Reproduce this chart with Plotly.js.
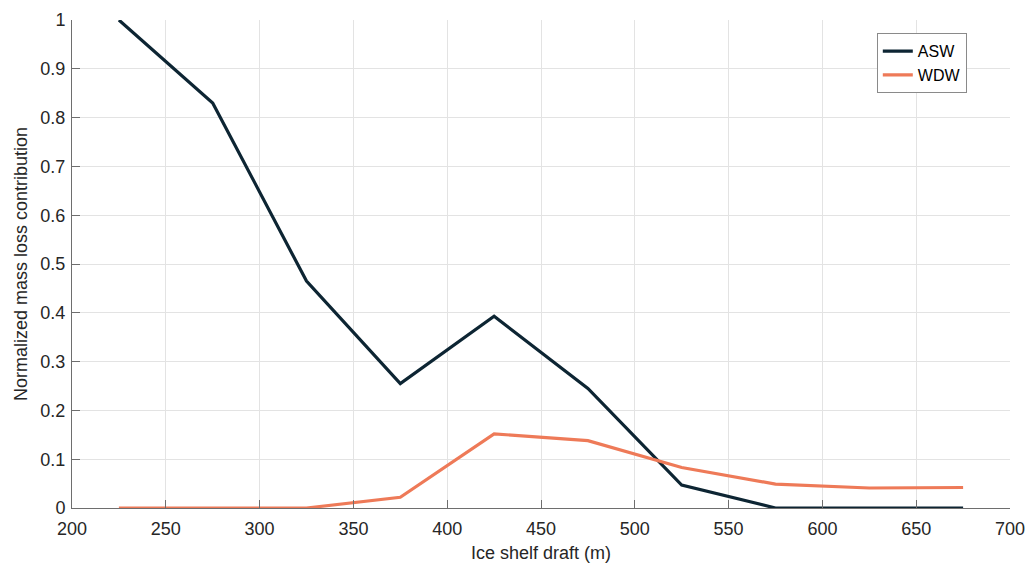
<!DOCTYPE html>
<html>
<head>
<meta charset="utf-8">
<script src="https://cdn.plot.ly/plotly-3.0.1.min.js"></script>
<style>html,body{margin:0;padding:0;background:#fff;}#chart{width:1028px;height:565px;}</style>
</head>
<body>
<div id="chart"></div>
<script>
var draft = [225, 275, 325, 375, 425, 475, 525, 575, 625, 675];
var asw = [1.0, 0.83, 0.465, 0.255, 0.393, 0.245, 0.047, 0, 0, 0];
var wdw = [0, 0, 0, 0.022, 0.152, 0.138, 0.083, 0.049, 0.041, 0.042];
var xTicks = [200, 250, 300, 350, 400, 450, 500, 550, 600, 650, 700];
var yTicks = [0, 0.1, 0.2, 0.3, 0.4, 0.5, 0.6, 0.7, 0.8, 0.9, 1];
var yTickText = ['0', '0.1', '0.2', '0.3', '0.4', '0.5', '0.6', '0.7', '0.8', '0.9', '1'];

var traces = [
  {x: draft, y: asw, mode: 'lines', name: 'ASW', line: {color: '#0d2533', width: 3.2}},
  {x: draft, y: wdw, mode: 'lines', name: 'WDW', line: {color: '#ee7a58', width: 3.2}}
];
var fam = 'Liberation Sans, Arial, sans-serif';
var axFont = {family: fam, size: 18, color: '#262626'};
var layout = {
  width: 1028, height: 565,
  margin: {l: 72, r: 18, t: 20, b: 57},
  paper_bgcolor: '#fff', plot_bgcolor: '#fff',
  showlegend: true,
  legend: {x: 0.858, y: 0.973, xanchor: 'left', yanchor: 'top', bgcolor: '#fff',
    bordercolor: '#8a8a8a', borderwidth: 1, font: {family: fam, size: 16, color: '#000'},
    tracegroupgap: 0, entrywidth: 72, entrywidthmode: 'pixels'},
  xaxis: {range: [200, 700], tickvals: xTicks, ticks: 'inside', ticklen: 8, tickcolor: '#6e6e6e',
    showline: true, linecolor: '#6e6e6e', linewidth: 1, showgrid: true, gridcolor: '#e3e3e3', zeroline: false,
    ticklabelstandoff: 4,
    tickfont: axFont, title: {text: 'Ice shelf draft (m)', font: {family: fam, size: 18, color: '#262626'}, standoff: 8}},
  yaxis: {range: [0, 1], tickvals: yTicks, ticktext: yTickText, ticks: 'inside', ticklen: 8, tickcolor: '#6e6e6e',
    showline: true, linecolor: '#6e6e6e', linewidth: 1, showgrid: true, gridcolor: '#e3e3e3', zeroline: false,
    ticklabelstandoff: 2,
    tickfont: axFont, title: {text: 'Normalized mass loss contribution', font: {family: fam, size: 18, color: '#262626'}, standoff: 8}}
};
Plotly.newPlot('chart', traces, layout, {displayModeBar: false, staticPlot: true});
</script>
</body>
</html>
